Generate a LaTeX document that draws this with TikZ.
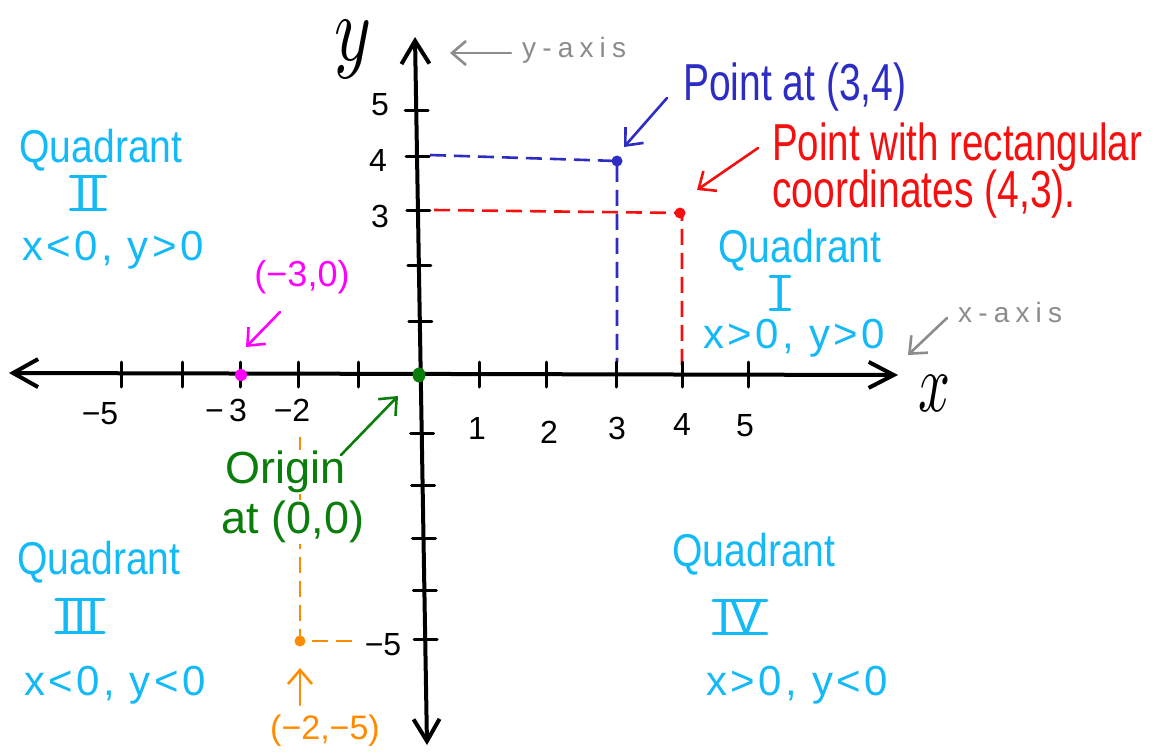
\documentclass[tikz,border=0pt]{standalone}
\usepackage{fontspec}
\setmainfont{Liberation Sans}
\newfontfamily\hand{Liberation Sans}
\newfontfamily\handq{Liberation Sans}[FakeStretch=0.85]
\newfontfamily\handc{Liberation Sans}[LetterSpace=8]
\newfontfamily\handn{Liberation Sans}[FakeStretch=0.75]
\newfontfamily\handg{Liberation Sans}[LetterSpace=22]
\usetikzlibrary{arrows.meta}
\definecolor{qcyan}{RGB}{20,186,245}
\definecolor{pblue}{RGB}{45,45,195}
\definecolor{pred}{RGB}{245,15,15}
\definecolor{pmag}{RGB}{255,0,255}
\definecolor{pgreen}{RGB}{10,125,10}
\definecolor{porange}{RGB}{255,140,0}
\definecolor{agray}{RGB}{140,140,140}
\begin{document}
\begin{tikzpicture}[x=1pt,y=-1pt,
  axisline/.style={line width=4pt,line cap=round},
  tk/.style={line width=3pt,line cap=round},
  dsh/.style={line width=2.6pt,dash pattern=on 16pt off 8pt},
  harrow/.style={line width=2.6pt,line cap=round,-{Straight Barb[length=14pt,width=24pt]}},
  quad/.style={text=qcyan,font=\handq\fontsize{46}{48}\selectfont,inner sep=0pt},
  cond/.style={text=qcyan,font=\handc\fontsize{42}{44}\selectfont,inner sep=0pt},
  roman/.style={text=qcyan,font=\hand\fontsize{48}{50}\selectfont,inner xsep=4pt,inner ysep=0pt},
  rbar/.style={qcyan,line width=3pt,line cap=round},
  num/.style={font=\hand\fontsize{32}{34}\selectfont,inner sep=0pt},
  tall/.style={font=\handn\fontsize{52}{54}\selectfont,inner sep=0pt},
  mid/.style={font=\hand\fontsize{36}{38}\selectfont,inner sep=0pt},
  gray/.style={text=agray,font=\handg\fontsize{28}{30}\selectfont,inner sep=0pt}
]
\fill[white] (0,0) rectangle (1155,752);
\useasboundingbox (0,0) rectangle (1155,752);

% key points
\coordinate (O) at (419,375);
\coordinate (P34) at (617,161);
\coordinate (P43) at (680,213);
\coordinate (Pm) at (241,375);
\coordinate (Po) at (300,641);

% dashed guide lines
\coordinate (b1) at (430,155);
\coordinate (b2) at (617,362);
\draw[dsh,pblue] (b1) -- (P34) -- (b2);
\coordinate (r1) at (434,210);
\coordinate (rc) at (682,213);
\coordinate (r2) at (682,368);
\draw[dsh,pred] (r1) -- (rc) -- (r2);
\coordinate (o1) at (300,437);
\coordinate (o2) at (357,641);
\draw[dsh,porange] (o1) -- (Po) -- (o2);

% axes
\coordinate (xl) at (9,373);
\coordinate (xr) at (898,375);
\coordinate (yt) at (415,37);
\coordinate (yb) at (427,745);
\draw[axisline,{Straight Barb[length=25pt,width=28pt]}-{Straight Barb[length=25pt,width=26pt]}] (xl) -- (xr);
\draw[axisline,{Straight Barb[length=23pt,width=28pt]}-{Straight Barb[length=22pt,width=26pt]}] (yt) -- (yb);

% ticks
\foreach \t in {121,182,240,298,358,479,546,616,682,748}
  \draw[tk] (\t,362) -- (\t,387);
\foreach \t in {110,156,210,265,321,433,485,538,590,639}
  \draw[tk] ({415+(\t-37)*12/708-11},\t) -- ++(23,0);

% tick labels
\node[num] (nx5) at (100,414) {−5};
\node[num] (nx3) at (226,410) {−\,3};
\node[num] (nx2) at (292,410) {−2};
\node[num] (px1) at (477,428) {1};
\node[num] (px2) at (549,432) {2};
\node[num] (px3) at (617,428) {3};
\node[num] (px4) at (682,424) {4};
\node[num] (px5) at (745,426) {5};
\node[num] (py5) at (380,105) {5};
\node[num] (py4) at (378,160) {4};
\node[num] (py3) at (380,216) {3};
\node[num] (ny5) at (383,645) {−5};

% axis names
\node[inner sep=0pt] (ylab) at (353,50) {\resizebox{37pt}{40pt}{$y$}};
\node[inner sep=0pt] (xlab) at (934,393) {\resizebox{32pt}{36pt}{$x$}};

% gray axis labels
\node[gray,anchor=west] (ytxt) at (522,50) {y-axis};
\coordinate (ya) at (511,53);
\coordinate (yah) at (450,53);
\draw[harrow,agray] (ya) -- (yah);
\node[gray,anchor=west] (xtxt) at (958,312) {x-axis};
\coordinate (xa) at (947,318);
\coordinate (xah) at (908,355);
\draw[harrow,agray] (xa) -- (xah);

% quadrant labels
\node[quad] (q2) at (101,150) {Quadrant};
\node[roman] (q2r) at (88,193) {II};
\draw[rbar] (q2r.north west) -- (q2r.north east);
\draw[rbar] (q2r.south west) -- (q2r.south east);
\node[cond] (q2c) at (113,250) {x<0, y>0};

\node[quad] (q1) at (800,250) {Quadrant};
\node[roman,inner xsep=3pt] (q1r) at (780,293) {I};
\draw[rbar] (q1r.north west) -- (q1r.north east);
\draw[rbar] (q1r.south west) -- (q1r.south east);
\node[cond] (q1c) at (794,338) {x>0, y>0};

\node[quad] (q3) at (99,562) {Quadrant};
\node[roman] (q3r) at (80,616) {III};
\draw[rbar] (q3r.north west) -- (q3r.north east);
\draw[rbar] (q3r.south west) -- (q3r.south east);
\node[cond] (q3c) at (115,685) {x<0, y<0};

\node[quad] (q4) at (754,554) {Quadrant};
\node[roman] (q4r) at (740,617) {IV};
\draw[rbar] (q4r.north west) -- (q4r.north east);
\draw[rbar] (q4r.south west) -- (q4r.south east);
\node[cond] (q4c) at (797,685) {x>0, y<0};

% blue point
\node[tall,text=pblue,anchor=base west] (bl) at (683,100) {Point at (3,4)};
\coordinate (ba) at (667,98);
\coordinate (bah) at (624,147);
\draw[harrow,pblue] (ba) -- (bah);
\fill[pblue] (P34) circle (5.5pt);

% red point
\node[font=\hand\fontsize{52}{54}\selectfont,inner sep=0pt,text=pred,anchor=base west] (rl1) at (772,160) {\scalebox{0.74}[1]{Point with rectangular}};
\node[tall,text=pred,anchor=base west] (rl2) at (772,207) {coordinates (4,3).};
\coordinate (ra) at (758,148);
\coordinate (rah) at (697,190);
\draw[harrow,pred] (ra) -- (rah);
\fill[pred] (P43) circle (5.5pt);

% magenta point
\node[mid,text=pmag] (ml) at (302,277) {(−3,0)};
\coordinate (ma) at (280,312);
\coordinate (mah) at (246,347);
\draw[harrow,pmag] (ma) -- (mah);
\fill[pmag] (Pm) circle (6pt);

% origin
\node[font=\hand\fontsize{45}{47}\selectfont,text=pgreen,inner sep=1pt,fill=white] (og1) at (286,472) {Origin};
\node[font=\hand\fontsize{45}{47}\selectfont,text=pgreen,inner sep=1pt,fill=white] (og2) at (293,522) {at (0,0)};
\coordinate (ga) at (341,455);
\coordinate (gah) at (398,396);
\draw[harrow,pgreen] (ga) -- (gah);
\fill[pgreen] (O) ellipse (6.5pt and 7.5pt);

% orange point
\node[font=\hand\fontsize{34}{36}\selectfont,text=porange,inner sep=0pt] (orl) at (325,731) {(−2,−5)};
\coordinate (oa) at (300,705);
\coordinate (oah) at (300,668);
\draw[harrow,porange] (oa) -- (oah);
\fill[porange] (Po) circle (5.5pt);
\end{tikzpicture}
\end{document}
